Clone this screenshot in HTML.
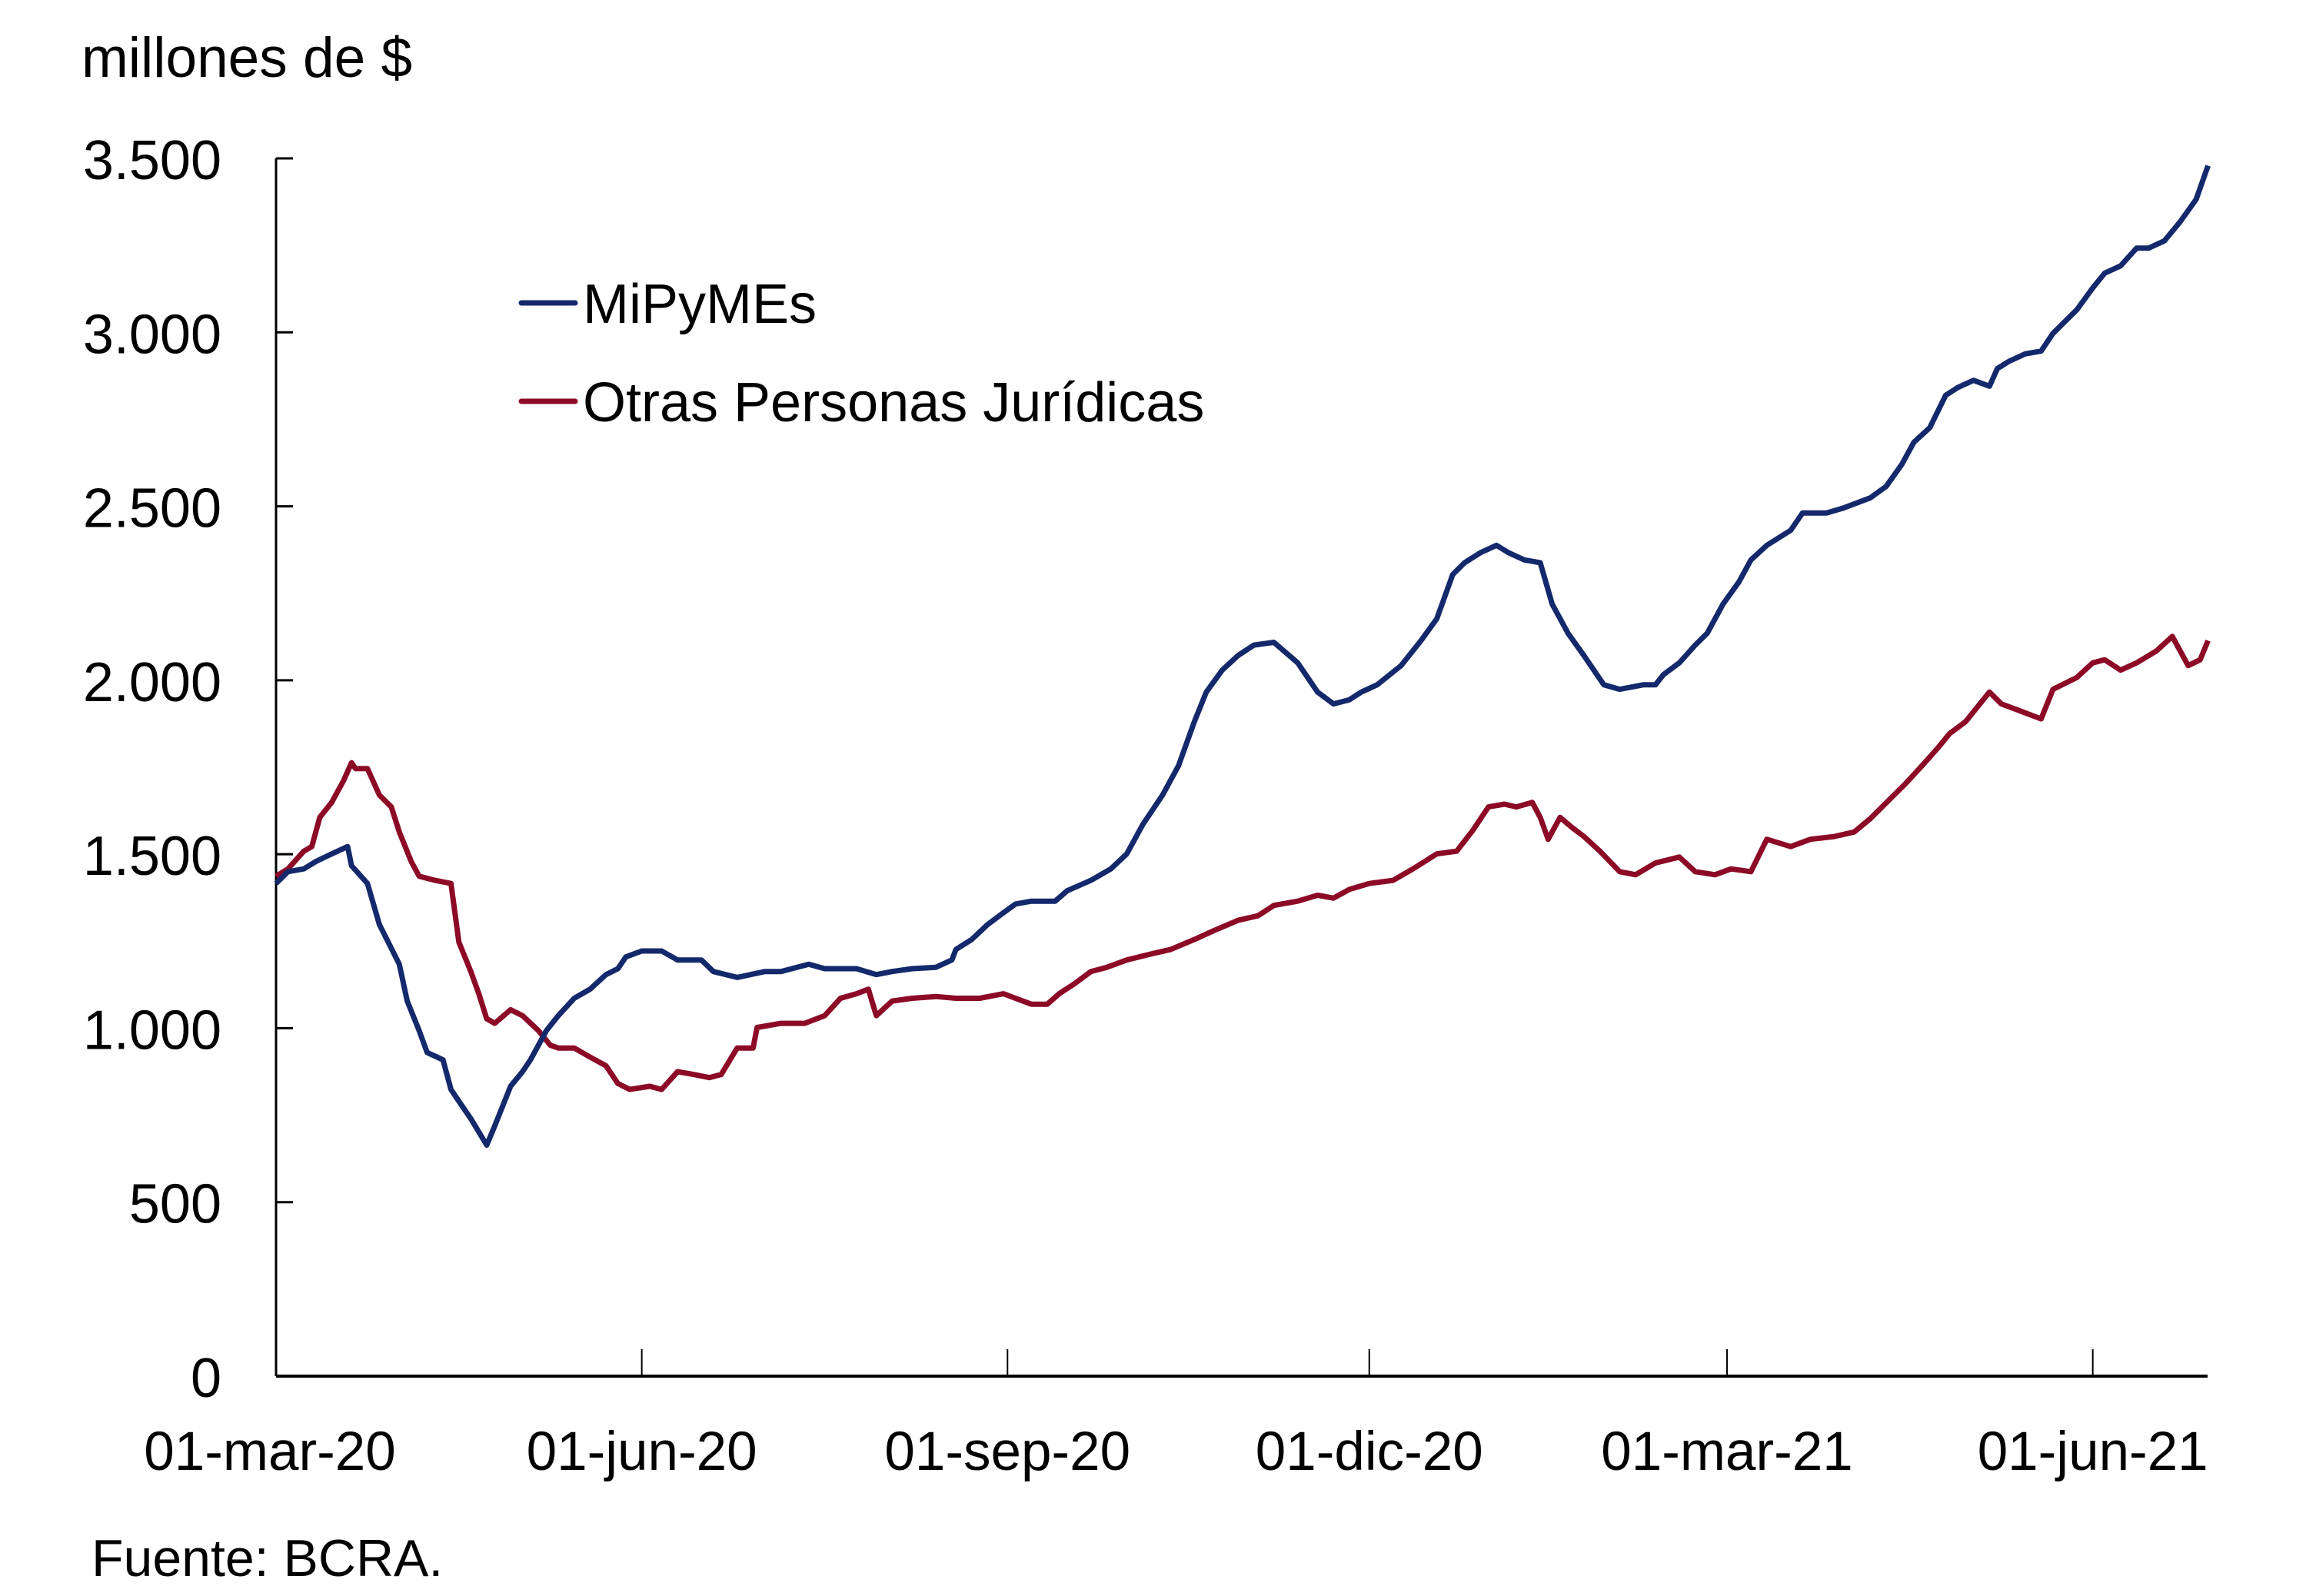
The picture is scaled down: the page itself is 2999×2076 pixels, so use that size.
<!DOCTYPE html>
<html><head><meta charset="utf-8"><style>
html,body{margin:0;padding:0;background:#fff;}
svg{display:block;font-family:"Liberation Sans",sans-serif;}
</style></head><body>
<svg id="chart" width="2999" height="2076" viewBox="0 0 2999 2076" xmlns="http://www.w3.org/2000/svg">
<text x="106" y="100" font-size="73">millones de $</text>
<g id="axes"></g>
<g id="series"></g>
<g>
  <g>
    <line x1="678" y1="394" x2="748" y2="394" stroke="#13296b" stroke-width="7" stroke-linecap="round"/>
    <text x="758" y="420" font-size="72">MiPyMEs</text>
  </g>
  <g>
    <line x1="678" y1="522" x2="748" y2="522" stroke="#8c0a26" stroke-width="7" stroke-linecap="round"/>
    <text x="758" y="548" font-size="72">Otras Personas Jurídicas</text>
  </g>
</g>
<text x="119" y="2050" font-size="68">Fuente: BCRA.</text>
</svg>
<script>
const yTicks = [0,500,1000,1500,2000,2500,3000,3500];
const yTickLabels = ["0","500","1.000","1.500","2.000","2.500","3.000","3.500"];
const xTickDays = [0,92,184,275,365,457];
const xTickLabels = ["01-mar-20","01-jun-20","01-sep-20","01-dic-20","01-mar-21","01-jun-21"];
const mipymes = [[0,1416],[3,1450],[7,1458],[10,1479],[14,1501],[18,1522],[19,1467],[23,1416],[26,1298],[31,1184],[33,1078],[36,993],[38,930],[42,909],[44,824],[46,790],[49,740],[53,664],[55,719],[59,833],[62,875],[64,909],[68,993],[71,1036],[75,1086],[79,1112],[83,1154],[86,1171],[88,1205],[92,1222],[97,1222],[101,1196],[107,1196],[110,1163],[116,1146],[123,1163],[127,1163],[134,1184],[138,1171],[142,1171],[146,1171],[151,1154],[155,1163],[160,1171],[166,1175],[170,1196],[171,1226],[175,1255],[179,1298],[183,1332],[186,1357],[190,1365],[196,1365],[199,1395],[205,1425],[210,1458],[214,1501],[218,1585],[223,1670],[227,1754],[231,1881],[234,1966],[238,2029],[242,2071],[246,2101],[251,2109],[257,2050],[262,1966],[266,1932],[270,1944],[273,1966],[277,1987],[283,2042],[288,2114],[292,2177],[296,2304],[299,2338],[303,2367],[307,2388],[310,2367],[314,2346],[318,2338],[321,2219],[325,2135],[329,2071],[334,1987],[338,1974],[344,1987],[347,1987],[349,2016],[353,2050],[357,2101],[360,2135],[364,2219],[368,2283],[371,2346],[375,2388],[381,2431],[384,2481],[390,2481],[394,2494],[401,2524],[405,2557],[409,2621],[412,2684],[416,2726],[420,2819],[423,2841],[427,2862],[431,2845],[433,2896],[436,2917],[440,2938],[444,2946],[447,2997],[453,3065],[457,3128],[460,3170],[464,3191],[468,3242],[471,3242],[475,3263],[479,3318],[483,3382],[486,3479]];
const otras = [[0,1437],[3,1458],[7,1509],[9,1522],[11,1606],[14,1649],[17,1712],[19,1763],[20,1746],[23,1746],[26,1670],[29,1636],[31,1564],[34,1479],[36,1437],[40,1425],[44,1416],[46,1247],[49,1163],[51,1099],[53,1027],[55,1014],[59,1053],[62,1036],[66,993],[69,951],[71,943],[75,943],[79,917],[83,892],[86,841],[89,824],[94,833],[97,824],[101,875],[105,867],[109,858],[112,867],[116,943],[120,943],[121,1002],[127,1014],[133,1014],[138,1036],[142,1086],[146,1099],[149,1112],[151,1036],[155,1078],[160,1086],[166,1091],[171,1086],[177,1086],[183,1099],[186,1086],[190,1069],[194,1069],[197,1099],[201,1129],[205,1163],[209,1175],[214,1196],[220,1213],[225,1226],[231,1255],[236,1281],[242,1310],[247,1323],[251,1353],[257,1365],[262,1382],[266,1374],[270,1399],[275,1416],[281,1425],[286,1458],[292,1501],[297,1509],[301,1568],[305,1636],[309,1644],[312,1636],[316,1649],[318,1606],[320,1543],[323,1606],[326,1577],[329,1551],[333,1509],[338,1450],[342,1441],[347,1475],[353,1492],[357,1450],[362,1441],[366,1458],[371,1450],[375,1543],[381,1522],[386,1543],[392,1551],[397,1564],[401,1602],[407,1670],[410,1704],[414,1754],[418,1805],[421,1847],[425,1881],[431,1966],[434,1932],[438,1915],[444,1889],[447,1974],[453,2008],[457,2050],[460,2059],[464,2029],[468,2050],[473,2084],[477,2126],[481,2042],[484,2059],[486,2114]];

const X0=359, X1=2871, Y0=1790, Y1=206;
const xMaxDay=(X1-X0)/5.17;
function xScale(d){return X0 + d/xMaxDay*(X1-X0);}
function yScale(v){return Y0 - v/3500*(Y0-Y1);}
const NS="http://www.w3.org/2000/svg";
const axes=document.getElementById('axes');
function mk(tag,attrs,parent){const e=document.createElementNS(NS,tag);for(const k in attrs)e.setAttribute(k,attrs[k]);parent.appendChild(e);return e;}
const yl=mk('line',{x1:X0,y1:Y1,x2:X0,y2:Y0,stroke:'#000','stroke-width':3},axes);


const xl=mk('line',{x1:X0,y1:Y0,x2:X1,y2:Y0,stroke:'#000','stroke-width':4},axes);


yTicks.forEach((v,i)=>{
  const y=yScale(v);
  const t=mk('line',{x1:X0,y1:y,x2:X0+22,y2:y,stroke:'#000','stroke-width':3},axes);
  
  
  const tx=mk('text',{x:288,y:y+27,'font-size':72,'text-anchor':'end'},axes);
  tx.textContent=yTickLabels[i];
  
  
});
xTickDays.forEach((d,i)=>{
  const x=xScale(d);
  if(i>0){
    const t=mk('line',{x1:x,y1:Y0,x2:x,y2:Y0-35,stroke:'#000','stroke-width':2},axes);
    
    
  }
  const tx=mk('text',{x:i==0?351:x,y:1912,'font-size':71,'text-anchor':'middle'},axes);
  tx.textContent=xTickLabels[i];
  
  
});
const sg=document.getElementById('series');
function draw(data,color,name){
  const d=data.map((p,i)=>(i?'L':'M')+xScale(p[0]).toFixed(1)+','+yScale(p[1]).toFixed(1)).join(' ');
  const p=mk('path',{d:d,fill:'none',stroke:color,'stroke-width':7,'stroke-linejoin':'round'},sg);
  
  
}
draw(otras,'#8c0a26','line-otras-personas-juridicas');
draw(mipymes,'#13296b','line-mipymes');
</script>
</body></html>
